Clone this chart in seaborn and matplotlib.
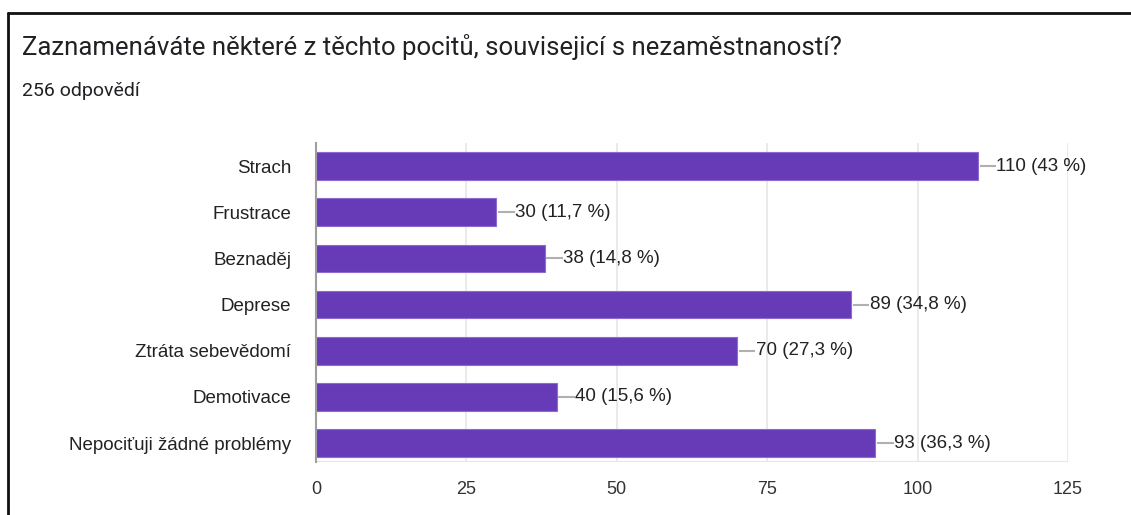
import numpy as np
import pandas as pd
import matplotlib
matplotlib.use("Agg")
import matplotlib.pyplot as plt
import seaborn as sns
from matplotlib.lines import Line2D

# Data
categories = ["Strach", "Frustrace", "Beznaděj", "Deprese",
              "Ztráta sebevědomí", "Demotivace", "Nepociťuji žádné problémy"]
counts = [110, 30, 38, 89, 70, 40, 93]
percents = ["43", "11,7", "14,8", "34,8", "27,3", "15,6", "36,3"]
x_ticks = [0, 25, 50, 75, 100, 125]

title = "Zaznamenáváte některé z těchto pocitů, souvisejicí s nezaměstnaností?"
subtitle = "256 odpovědí"

df = pd.DataFrame({"category": categories, "count": counts})

sns.set_style("white")
plt.rcParams['font.family'] = ['Liberation Sans', 'DejaVu Sans']

fig = plt.figure(figsize=(11.31, 5.15), dpi=100)
ax = fig.add_axes([0.2794, 0.1029, 0.9443 - 0.2794, 0.7223 - 0.1029])

sns.barplot(data=df, x="count", y="category", orient="h", color="#673ab7",
            width=0.6, edgecolor="#8e6bcf", linewidth=0.8, saturation=1, ax=ax)

ax.set_xlim(0, 125)
ax.set_ylim(6.41, -0.5)
ax.set_xticks(x_ticks)
ax.set_xticklabels([str(t) for t in x_ticks])
ax.set_xlabel("")
ax.set_ylabel("")

# gridlines
for t in x_ticks[1:]:
    ax.axvline(t, color="#e6e6e6", lw=1.2, zorder=0)
ax.axhline(6.41, color="#e6e6e6", lw=1.5, zorder=0)

for s in ["top", "right", "bottom"]:
    ax.spines[s].set_visible(False)
ax.spines["left"].set_color("#9e9e9e")
ax.spines["left"].set_linewidth(1.5)

ax.tick_params(axis="x", length=0, pad=14, labelsize=13, labelcolor="#333333")
ax.tick_params(axis="y", length=0, pad=18, labelsize=13.5, labelcolor="#222222")

# value labels with leader lines
for i, (v, p) in enumerate(zip(counts, percents)):
    ax.plot([v + 0.3, v + 3.0], [i, i], color="#b0b0b0", lw=1.5,
            solid_capstyle="butt", clip_on=False)
    ax.text(v + 3.1, i, f"{v} ({p} %)", va="center", ha="left",
            fontsize=13.5, color="#222222", clip_on=False)

# titles
fig.text(22 / 1131, 1 - 47 / 515, title, fontsize=18.5, color="#202124",
         va="center", ha="left", family=["Roboto", "DejaVu Sans"])
fig.text(22 / 1131, 1 - 91 / 515, subtitle, fontsize=14, color="#202124",
         va="center", ha="left", family=["Roboto", "DejaVu Sans"])

# frame lines
fig.add_artist(Line2D([8 / 1131, 8 / 1131], [0, 1 - 13 / 515],
                      transform=fig.transFigure, color="#111111", lw=2))
fig.add_artist(Line2D([8 / 1131, 1], [1 - 13 / 515, 1 - 13 / 515],
                      transform=fig.transFigure, color="#111111", lw=2))

fig.savefig("out.png", dpi=100)
